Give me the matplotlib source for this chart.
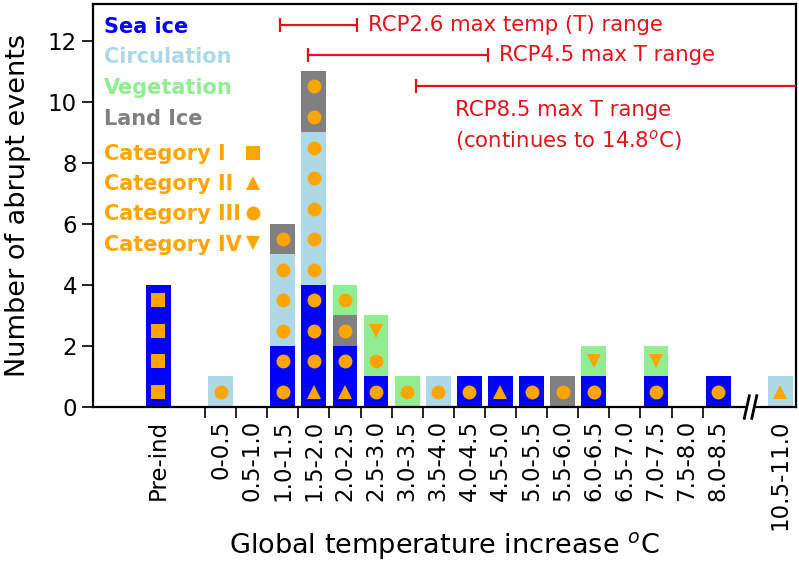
import numpy as np
import matplotlib
matplotlib.use("Agg")
import matplotlib.pyplot as plt
import matplotlib.transforms as mtransforms

# Datos: eventos abruptos por intervalo de temperatura
bins = ['Pre-ind', '0-0.5', '0.5-1.0', '1.0-1.5', '1.5-2.0', '2.0-2.5', '2.5-3.0',
        '3.0-3.5', '3.5-4.0', '4.0-4.5', '4.5-5.0', '5.0-5.5', '5.5-6.0', '6.0-6.5',
        '6.5-7.0', '7.0-7.5', '7.5-8.0', '8.0-8.5', '10.5-11.0']
sea_ice = [4, 0, 0, 2, 4, 2, 1, 0, 0, 1, 1, 1, 0, 1, 0, 1, 0, 1, 0]
circulation = [0, 1, 0, 3, 5, 0, 0, 0, 1, 0, 0, 0, 0, 0, 0, 0, 0, 0, 1]
land_ice = [0, 0, 0, 1, 2, 1, 0, 0, 0, 0, 0, 0, 1, 0, 0, 0, 0, 0, 0]
vegetation = [0, 0, 0, 0, 0, 1, 2, 1, 0, 0, 0, 0, 0, 1, 0, 1, 0, 0, 0]
# categoria de cada evento, de abajo hacia arriba
cats = ['I I I I', 'III', '', 'III III III III III III',
        'II III III III III III III III III III III', 'II III III III', 'III III IV',
        'III', 'III', 'III', 'II', 'III', 'III', 'III IV', '', 'III IV', '', 'III', 'II']

rcp_names = ['RCP2.6 max temp (T) range', 'RCP4.5 max T range', 'RCP8.5 max T range']
rcp_lo = [1.2, 1.65, 3.4]
rcp_hi = [2.45, 4.55, 14.8]

cat_markers = {'I': 's', 'II': '^', 'III': 'o', 'IV': 'v'}
colors = {'Sea ice': 'blue', 'Circulation': 'lightblue', 'Vegetation': 'lightgreen',
          'Land Ice': 'gray'}
orange = 'orange'
red = '#e0141c'

# posiciones: pre-industrial a la izquierda, eje cortado antes de 10.5
axis_shift = 1.5
xpos = []
for b in bins:
    if b == 'Pre-ind':
        xpos.append(-0.75)
    else:
        lo = float(b.split('-')[0])
        if lo > 9:
            lo -= axis_shift
        xpos.append(lo + 0.25)
xpos = np.array(xpos)

fig = plt.figure(figsize=(7.99, 5.65), dpi=100)
ax = fig.add_axes([0.1164, 0.2796, 0.8798, 0.7133])

w = 0.4
bottom = np.zeros(len(bins))
for name, vals in [('Sea ice', sea_ice), ('Circulation', circulation),
                   ('Land Ice', land_ice), ('Vegetation', vegetation)]:
    vals = np.array(vals)
    ax.bar(xpos, vals, w, bottom=bottom, color=colors[name], edgecolor='none', zorder=2)
    bottom += vals

for x, c in zip(xpos, cats):
    for k, cat in enumerate(c.split()):
        ax.plot(x, k + 0.5, marker=cat_markers[cat], color=orange, ms=10, mew=0,
                linestyle='none', zorder=3)

# rangos RCP
rcp_y = [12.52, 11.54, 10.52]
for name, lo, hi, y in zip(rcp_names, rcp_lo, rcp_hi, rcp_y):
    ax.errorbar((lo + hi) / 2, y, xerr=(hi - lo) / 2, color=red, lw=1.6, capsize=5,
                capthick=1.6, fmt='none', zorder=4)
ax.text(2.62, rcp_y[0], rcp_names[0], color=red, fontsize=15.3, va='center')
ax.text(4.73, rcp_y[1], rcp_names[1], color=red, fontsize=15.3, va='center')
ax.text(4.02, 9.74, rcp_names[2], color=red, fontsize=15.3, va='center')
ax.text(4.02, 8.72, '(continues to 14.8$^o$C)', color=red, fontsize=15.3, va='center')

# leyenda como texto
legend_y = [12.46, 11.48, 10.46, 9.44]
for (name, col), y in zip(colors.items(), legend_y):
    ax.text(-1.62, y, name, color=col, fontsize=15, fontweight='bold', va='center')
cat_y = [8.28, 7.3, 6.32, 5.32]
for (cat, m), y in zip(cat_markers.items(), cat_y):
    ax.text(-1.62, y, 'Category ' + cat, color=orange, fontsize=15, fontweight='bold',
            va='center')
    ax.plot(0.77, y + 0.05, marker=m, color=orange, ms=10, mew=0, linestyle='none')

ax.set_xlim(-1.8, 9.5)
ax.set_ylim(0, 13.2)
ax.set_yticks(np.arange(0, 13, 2))
edges = np.arange(0, 8.01, 0.5)
ax.set_xticks(edges)
ax.set_xticklabels([])
ax.set_xticks(xpos, bins, minor=True, rotation=90)
ax.tick_params(axis='x', which='major', direction='out', length=8, width=1.2)
ax.tick_params(axis='x', which='minor', length=0, pad=9, labelsize=16.5)
ax.tick_params(axis='y', direction='out', length=8, width=1.2, labelsize=16.5)
for s in ax.spines.values():
    s.set_linewidth(1.6)

ax.set_xlabel('Global temperature increase $^o$C', fontsize=19.5)
ax.set_ylabel('Number of abrupt events', fontsize=19.5)
ax.xaxis.set_label_coords(0.5, -0.305)
ax.yaxis.set_label_coords(-0.088, 0.5)

# marca de eje cortado
trans = mtransforms.blended_transform_factory(ax.transData, ax.transAxes)
bx = 8.73
ax.fill([bx - 0.06, bx + 0.02, bx + 0.14, bx + 0.06], [-0.028, 0.028, 0.028, -0.028],
        color='white', transform=trans, clip_on=False, zorder=5)
for dx in [0, 0.12]:
    ax.plot([bx - 0.06 + dx, bx + 0.02 + dx], [-0.028, 0.028], color='black', lw=2,
            transform=trans, clip_on=False, zorder=6)

fig.savefig('out.png', dpi=100)
